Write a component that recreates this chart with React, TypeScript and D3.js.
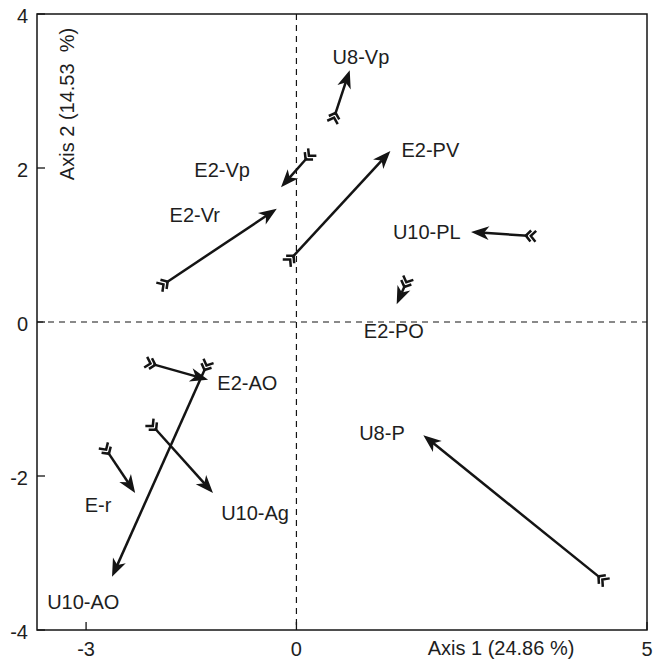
import React from "react";
import * as d3 from "d3";

const names = ["U8-Vp", "E2-PV", "E2-Vp", "E2-Vr", "U10-PL", "E2-PO", "E2-AO", "U10-AO", "E-r", "U10-Ag", "U8-P"];
const tailX = [0.55, -0.06, 0.15, -1.86, 3.3, 1.55, -2.04, -1.3, -2.69, -2.02, 4.33];
const tailY = [2.69, 0.84, 2.13, 0.51, 1.12, 0.48, -0.55, -0.6, -1.69, -1.38, -3.32];
const headX = [0.76, 1.34, -0.22, -0.28, 2.49, 1.43, -1.26, -2.63, -2.3, -1.19, 1.81];
const headY = [3.27, 2.22, 1.75, 1.47, 1.17, 0.23, -0.75, -3.31, -2.22, -2.22, -1.47];
const labelX = [0.92, 1.91, -1.06, -1.45, 1.86, 1.39, -0.7, -3.04, -2.83, -0.59, 1.22];
const labelY = [3.44, 2.23, 1.97, 1.39, 1.17, -0.12, -0.79, -3.64, -2.38, -2.48, -1.44];
const xTicks = [-3, 0, 5];
const yTicks = [-4, -2, 0, 2, 4];
const xDomain = [-3.7, 5];
const yDomain = [-4, 4];
const xTitle = "Axis 1 (24.86 %)";
const yTitle = "Axis 2 (14.53  %)";

const W = 662;
const H = 661;
const FONT = "'Liberation Sans', Arial, Helvetica, sans-serif";

export default function App() {
  const x = d3.scaleLinear().domain(xDomain).range([37, 647]);
  const y = d3.scaleLinear().domain(yDomain).range([630, 14]);
  const ink = "#141414";

  const arrows = names.map((name, i) => {
    const tx = x(tailX[i]);
    const ty = y(tailY[i]);
    const hx = x(headX[i]);
    const hy = y(headY[i]);
    const dx = hx - tx;
    const dy = hy - ty;
    const len = Math.hypot(dx, dy);
    const ux = dx / len;
    const uy = dy / len;
    const nx = -uy;
    const ny = ux;
    const L = 18;
    const HW = 7;
    const head = [
      [hx, hy],
      [hx - L * ux + HW * nx, hy - L * uy + HW * ny],
      [hx - 0.72 * L * ux, hy - 0.72 * L * uy],
      [hx - L * ux - HW * nx, hy - L * uy - HW * ny],
    ];
    const lineEnd = [hx - 0.7 * L * ux, hy - 0.7 * L * uy];
    const a = 5;
    const b = 5.5;
    const chev = [0, 5].map((off) => {
      const px = tx - off * ux + 2 * ux;
      const py = ty - off * uy + 2 * uy;
      return `M${px - a * ux + b * nx},${py - a * uy + b * ny}L${px},${py}L${px - a * ux - b * nx},${py - a * uy - b * ny}`;
    });
    return { name, tx, ty, lineEnd, head, chev, lx: x(labelX[i]), ly: y(labelY[i]) };
  });

  const line = d3.line();

  return (
    <svg width={W} height={H} style={{ position: "absolute", left: 0, top: 0, background: "#fff" }} fontFamily={FONT}>
      <rect x={0} y={0} width={W} height={H} fill="#fff" />
      {/* dashed zero lines */}
      <line x1={x(0)} x2={x(0)} y1={y(yDomain[1])} y2={y(yDomain[0])} stroke={ink} strokeWidth={1.2} strokeDasharray="6,5" />
      <line x1={x(xDomain[0])} x2={x(xDomain[1])} y1={y(0)} y2={y(0)} stroke={ink} strokeWidth={1.2} strokeDasharray="6,5" />
      {/* frame */}
      <rect x={x(xDomain[0])} y={y(yDomain[1])} width={x(xDomain[1]) - x(xDomain[0])} height={y(yDomain[0]) - y(yDomain[1])} fill="none" stroke={ink} strokeWidth={1.5} />
      {/* ticks */}
      {yTicks.map((t) => (
        <g key={"y" + t}>
          <line x1={x(xDomain[0])} x2={x(xDomain[0]) + 8} y1={y(t)} y2={y(t)} stroke={ink} strokeWidth={1.3} />
          <text x={28} y={y(t) + 2} textAnchor="end" dominantBaseline="central" fontSize={20} fill="#1e1e1e">{t}</text>
        </g>
      ))}
      {xTicks.map((t) => (
        <g key={"x" + t}>
          <line x1={x(t)} x2={x(t)} y1={y(yDomain[0])} y2={y(yDomain[0]) - 8} stroke={ink} strokeWidth={1.3} />
          <text x={x(t)} y={649} textAnchor="middle" dominantBaseline="central" fontSize={20} fill="#1e1e1e">{t}</text>
        </g>
      ))}
      <text x={501} y={648} textAnchor="middle" dominantBaseline="central" fontSize={20} fill="#1e1e1e">{xTitle}</text>
      <text transform={`translate(67,104) rotate(-90)`} textAnchor="middle" dominantBaseline="central" fontSize={20} fill="#1e1e1e" style={{ whiteSpace: "pre" }}>{yTitle}</text>
      {/* arrows */}
      {arrows.map((a) => (
        <g key={a.name}>
          <path d={line([[a.tx, a.ty], a.lineEnd as [number, number]]) || ""} stroke={ink} strokeWidth={2.5} fill="none" />
          <path d={(line(a.head as [number, number][]) || "") + "Z"} fill={ink} stroke="none" />
          {a.chev.map((d, k) => (
            <path key={k} d={d} stroke={ink} strokeWidth={2.5} fill="none" />
          ))}
          <text x={a.lx} y={a.ly} textAnchor="middle" dominantBaseline="central" fontSize={20} fill="#1e1e1e">{a.name}</text>
        </g>
      ))}
    </svg>
  );
}
